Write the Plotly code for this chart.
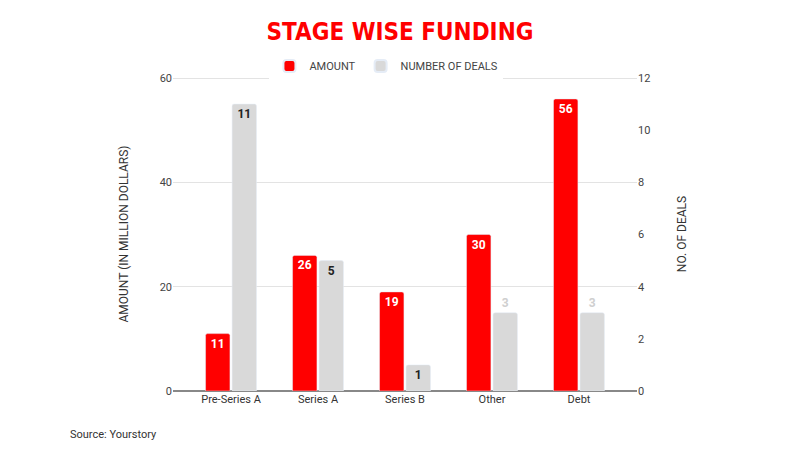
import plotly.graph_objects as go

categories = ["Pre-Series A", "Series A", "Series B", "Other", "Debt"]
amount = [11, 26, 19, 30, 56]
deals = [11, 5, 1, 3, 3]
left_ticks = [0, 20, 40, 60]
right_ticks = [0, 2, 4, 6, 8, 10, 12]

RED = "#ff0000"
GRAY = "#d9d9d9"

fig = go.Figure()
fig.add_trace(go.Bar(
    x=categories, y=amount, name="AMOUNT", marker_color=RED,
    text=[str(v) for v in amount], textposition="inside", insidetextanchor="end",
    textfont=dict(color="white", size=12, family="Roboto", weight="bold"),
    offsetgroup="a", yaxis="y", cliponaxis=False,
))
deal_pos = ["inside" if v > 3 or v == 1 else "outside" for v in deals]
deal_col = ["#222222" if p == "inside" else "#cfcfcf" for p in deal_pos]
fig.add_trace(go.Bar(
    x=categories, y=deals, name="NUMBER OF DEALS", marker_color=GRAY,
    text=[str(v) for v in deals], textposition=deal_pos, insidetextanchor="end",
    textfont=dict(color=deal_col, size=12, family="Roboto", weight="bold"),
    offsetgroup="b", yaxis="y2", cliponaxis=False,
))

fig.update_layout(
    width=800, height=450,
    paper_bgcolor="white", plot_bgcolor="white",
    margin=dict(l=173, r=163, t=77, b=59),
    font=dict(family="Roboto", size=11, color="#444444"),
    title=dict(text="<b>STAGE WISE FUNDING</b>", x=0.5, xanchor="center", y=0.93, yanchor="middle",
               font=dict(family="DejaVu Sans Condensed", size=24, color=RED)),
    barmode="group", bargap=0.39, bargroupgap=0.08, barcornerradius=2,
    showlegend=True,
    legend=dict(orientation="h", x=0.46, xanchor="center", y=1.035, yanchor="middle",
                font=dict(size=11, color="#444444"), itemsizing="constant",
                traceorder="normal", itemwidth=30),
    xaxis=dict(range=[-0.667, 4.667], showgrid=False, showline=False, ticks="",
               tickfont=dict(size=11, color="#333333")),
    yaxis=dict(range=[0, 60.2], tickvals=left_ticks, showgrid=True, gridcolor="#e3e3e3",
               zeroline=True, zerolinecolor="#888888", zerolinewidth=1.5,
               title=dict(text="AMOUNT (IN MILLION DOLLARS)", font=dict(size=12, color="#333333"), standoff=28),
               tickfont=dict(size=11, color="#444444"), ticks="", ticklen=0),
    yaxis2=dict(range=[0, 12.04], tickvals=right_ticks, overlaying="y", side="right",
                showgrid=False, zeroline=False,
                title=dict(text="NO. OF DEALS", font=dict(size=12, color="#333333"), standoff=28),
                tickfont=dict(size=11, color="#444444")),
    annotations=[dict(text="Source: Yourstory", xref="paper", yref="paper", x=-0.226, y=-0.14,
                      xanchor="left", yanchor="middle", showarrow=False,
                      font=dict(size=11, color="#333333"))],
)

fig.write_html("out.html")
